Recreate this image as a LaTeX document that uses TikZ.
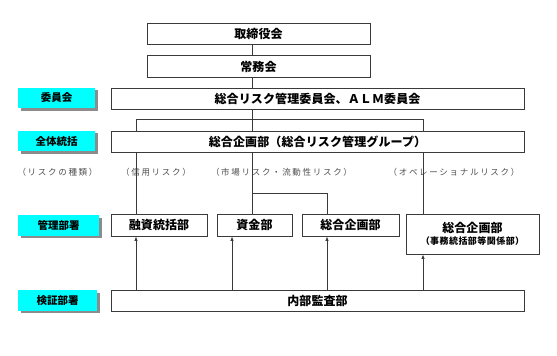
\documentclass[tikz,border=0pt]{standalone}
\usepackage{fontspec}
\usetikzlibrary{arrows.meta, positioning, calc, shadows}
\newfontfamily\jp{Noto Sans CJK JP}
\definecolor{tagcyan}{HTML}{00FFFF}
\definecolor{lngray}{HTML}{3A3A3A}
\definecolor{shgray}{HTML}{8C8C8C}
\definecolor{notegray}{HTML}{4D4D4D}

\begin{document}
\begin{tikzpicture}[x=1pt, y=-1pt,
  >={Latex[length=4.5pt, width=3.5pt]},
  orgbox/.style 2 args={
    draw=lngray, line width=0.8pt, fill=white, inner sep=0pt,
    minimum width=#1pt, minimum height=#2pt, align=center, text=black,
    font=\jp\bfseries\fontsize{12}{13}\selectfont\addfontfeatures{LetterSpace=1}
  },
  tagbox/.style={
    fill=tagcyan, inner sep=0pt, minimum width=#1pt, minimum height=20.5pt,
    drop shadow={shadow xshift=2.5pt, shadow yshift=-2.5pt, fill=shgray, opacity=1},
    font=\jp\bfseries\fontsize{10.5}{12}\selectfont, text=black
  },
  conn/.style={draw=lngray, line width=0.8pt},
  arr/.style={->, draw=lngray, line width=0.8pt},
  note/.style={
    font=\jp\fontsize{8.5}{10}\selectfont\addfontfeatures{LetterSpace=20},
    text=notegray
  },
]

\useasboundingbox (0,0) rectangle (557,356);

% Boxes
\node[orgbox={223}{21.5}] (board) at (258.5,33.75) {取締役会};
\node[orgbox={223}{21.5}] (exec) at (258.5,66.5) {常務会};
\node[orgbox={413}{21}] (comm) at (317.5,98.5) {総合リスク管理委員会、ＡＬＭ委員会};
\node[orgbox={413}{21}] (plan) at (317.5,141.5) {総合企画部（総合リスク管理グループ）};

\node[orgbox={96}{22}] (loan) at (159,225) {融資統括部};
\node[orgbox={75}{22}] (fund) at (254.5,225) {資金部};
\node[orgbox={97}{22}] (corp) at (350.5,225) {総合企画部};
\node[orgbox={133}{40}] (ops) at (472.5,234)
  {総合企画部\\[-1pt]
   \fontsize{9}{10}\selectfont\addfontfeatures{LetterSpace=5}（事務統括部等関係部）};

\node[orgbox={413}{21}] (audit) at (317.5,300.5) {内部監査部};

% Tags on the left
\node[tagbox=77] (tcomm) at (56.5,98) {委員会};
\node[tagbox=77] (tplan) at (56.5,141) {全体統括};
\node[tagbox=81] (tmgmt) at (58.5,225.5) {管理部署};
\node[tagbox=79] (tverify) at (57.5,300.5) {検証部署};

% Risk types
\node[note] (nkind) at (57.5,172) {（リスクの種類）};
\node[note] (ncredit) at (156,172) {（信用リスク）};
\node[note] (nmarket) at (281.5,172) {（市場リスク・流動性リスク）};
\node[note] (nops) at (454,172) {（オペレーショナルリスク）};

% Connectors
\coordinate (spine) at (252.5,0);
\coordinate (lbr) at (136,119);
\coordinate (rbr) at (423,119);
\coordinate (mbr) at (327,193);
\coordinate (fx) at (232,0);

\draw[conn] (board.south -| spine) -- (exec.north -| spine);
\draw[conn] (exec.south -| spine) -- (comm.north -| spine);
\draw[conn] (comm.south -| spine) -- (plan.north -| spine);
\draw[conn] (plan.south -| spine) -- (fund.north -| spine);
\draw[conn] (plan.north -| lbr) |- (rbr) -- (plan.north -| rbr);
\draw[conn] (plan.south -| lbr) -- (loan.north -| lbr);
\draw[conn] (plan.south -| rbr) -- (ops.north -| rbr);
\draw[conn] (mbr -| spine) -- (mbr) -- (corp.north -| mbr);

% Arrows from audit
\draw[arr] (audit.north -| lbr) -- (loan.south -| lbr);
\draw[arr] (audit.north -| fx) -- (fund.south -| fx);
\draw[arr] (audit.north -| mbr) -- (corp.south -| mbr);
\draw[arr] (audit.north -| rbr) -- (ops.south -| rbr);

\end{tikzpicture}
\end{document}
